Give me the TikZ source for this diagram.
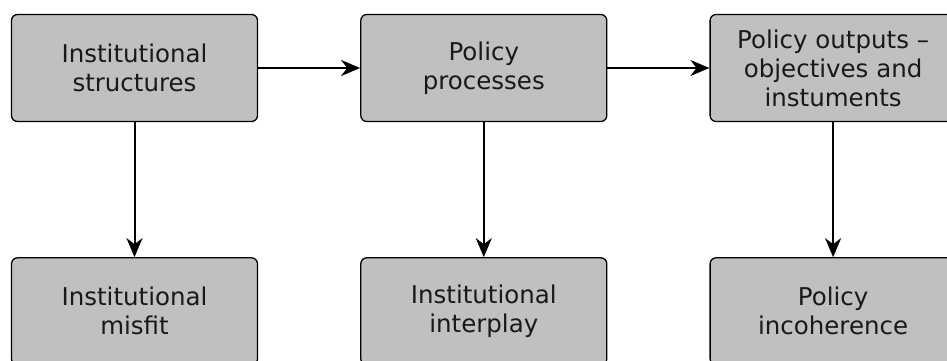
\documentclass[tikz,border=0pt]{standalone}
\usepackage{fontspec}
\setmainfont{DejaVu Sans}
\usetikzlibrary{arrows.meta,positioning}

\begin{document}
\begin{tikzpicture}[x=1pt, y=1pt, >={Stealth[length=19pt,width=16pt,inset=6pt]},
  box/.style={draw=black, line width=1.3pt, fill=boxgray, rounded corners=6pt,
    minimum width=246pt, minimum height=107pt, align=center, inner sep=0pt,
    font=\fontsize{24.5}{29}\selectfont, text=black!90},
  link/.style={->, line width=2pt}]
  \definecolor{boxgray}{RGB}{192,192,192}
  \useasboundingbox (0,0) rectangle (947,360);
  % top row
  \node[box] (struct) at (134.5,292) {Institutional\\structures};
  \node[box, right=102pt of struct] (proc) {Policy\\processes};
  \node[box, right=102pt of proc] (outputs) {Policy outputs --\\objectives and\\instuments};
  % bottom row
  \node[box, below=135pt of struct] (misfit) {Institutional\\misfit};
  \node[box, below=135pt of proc] (interplay) {Institutional\\interplay};
  \node[box, below=135pt of outputs] (incoh) {Policy\\incoherence};
  % connectors
  \draw[link] (struct) -- (proc);
  \draw[link] (proc) -- (outputs);
  \draw[link] (struct) -- (misfit);
  \draw[link] (proc) -- (interplay);
  \draw[link] (outputs) -- (incoh);
\end{tikzpicture}
\end{document}
